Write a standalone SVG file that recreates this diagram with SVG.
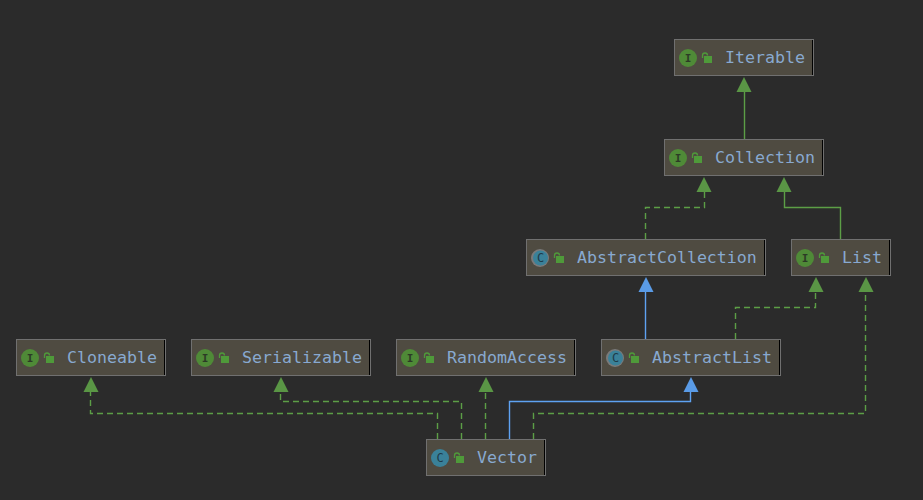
<svg xmlns="http://www.w3.org/2000/svg" width="923" height="500" viewBox="0 0 923 500">
<style>
text{font-family:"DejaVu Sans Mono","Liberation Mono",monospace}
.box{fill:#4f4b41;stroke:#707070;stroke-width:1}
.base{fill:#707070}
.edge{fill:#000}
.label{font-size:16.6px;fill:#88a9d0}
.ic{fill:#4f8a37}
.cc{fill:#3a8199}
.gl{font-size:11px;font-weight:bold;text-anchor:middle;fill:#2c3a26}
.glc{font-size:12px;text-anchor:middle;fill:#1e3a48}
.conn{fill:none;stroke-width:1.4}
.g{stroke:#5c9e46}
.b{stroke:#5ea2f2}
.d{stroke-dasharray:6 4;stroke:#5c9e46}
.ag{fill:#5a9645}
.ab{fill:#5a9be6}
.lock{fill:none;stroke:#4f9a3a;stroke-width:1.3}
.lockb{fill:#4f9a3a}
</style>
<defs>
<g id="lk"><path class="lock" d="M0.500 0V-2.500a2.500 2.500 0 0 1 5 0"/><rect class="lockb" x="2" y="-2" width="8" height="7"/></g>
<path id="tip" d="M0 0l7.500 15h-15z"/>
</defs>
<rect width="923" height="500" fill="#2b2b2b"/>
<g id="connectors">
<path class="conn g" d="M744.500 92V139"/>
<path class="conn d" d="M645.500 239V207.500H704.500V192"/>
<path class="conn g" d="M840.500 239V207.500H784.500V192"/>
<path class="conn b" d="M645.500 339V292"/>
<path class="conn d" d="M735.500 339V307.500H815.500V292"/>
<path class="conn d" d="M437.500 439V413.500H90.500V392"/>
<path class="conn d" d="M461.500 439V401.500H280.500V392"/>
<path class="conn d" d="M485.500 439V392"/>
<path class="conn b" d="M509.500 439V401.500H690.500V392"/>
<path class="conn d" d="M533.500 439V413.500H865.500V292"/>
<use href="#tip" class="ag" x="744" y="77"/>
<use href="#tip" class="ag" x="704" y="177"/>
<use href="#tip" class="ag" x="784" y="177"/>
<use href="#tip" class="ab" x="646" y="277"/>
<use href="#tip" class="ag" x="816" y="277"/>
<use href="#tip" class="ag" x="866" y="277"/>
<use href="#tip" class="ag" x="91" y="377"/>
<use href="#tip" class="ag" x="281" y="377"/>
<use href="#tip" class="ag" x="486" y="377"/>
<use href="#tip" class="ab" x="691" y="377"/>
</g>
<g id="node-iterable">
<rect class="box" x="674.500" y="39.500" width="139" height="36"/><rect class="edge" x="812" y="40" width="1" height="35"/><rect class="base" x="675" y="75" width="139" height="1"/>
<circle class="ic" cx="688" cy="58" r="9"/><text class="gl" x="688" y="62">I</text>
<use href="#lk" x="702" y="58"/><text class="label" x="725" y="63">Iterable</text>
</g>
<g id="node-collection">
<rect class="box" x="664.500" y="139.500" width="159" height="36"/><rect class="edge" x="822" y="140" width="1" height="35"/><rect class="base" x="665" y="175" width="159" height="1"/>
<circle class="ic" cx="678" cy="158" r="9"/><text class="gl" x="678" y="162">I</text>
<use href="#lk" x="692" y="158"/><text class="label" x="715" y="163">Collection</text>
</g>
<g id="node-abstractcollection">
<rect class="box" x="526.500" y="239.500" width="239" height="36"/><rect class="edge" x="764" y="240" width="1" height="35"/><rect class="base" x="527" y="275" width="239" height="1"/>
<circle cx="540" cy="258" r="9" fill="#7a7a7a"/><circle class="cc" cx="540.500" cy="258" r="7.500"/><text class="glc" x="540.500" y="262">C</text>
<use href="#lk" x="554" y="258"/><text class="label" x="577" y="263">AbstractCollection</text>
</g>
<g id="node-list">
<rect class="box" x="791.500" y="239.500" width="99" height="36"/><rect class="edge" x="889" y="240" width="1" height="35"/><rect class="base" x="792" y="275" width="99" height="1"/>
<circle class="ic" cx="805" cy="258" r="9"/><text class="gl" x="805" y="262">I</text>
<use href="#lk" x="819" y="258"/><text class="label" x="842" y="263">List</text>
</g>
<g id="node-cloneable">
<rect class="box" x="16.500" y="339.500" width="149" height="36"/><rect class="edge" x="164" y="340" width="1" height="35"/><rect class="base" x="17" y="375" width="149" height="1"/>
<circle class="ic" cx="30" cy="358" r="9"/><text class="gl" x="30" y="362">I</text>
<use href="#lk" x="44" y="358"/><text class="label" x="67" y="363">Cloneable</text>
</g>
<g id="node-serializable">
<rect class="box" x="191.500" y="339.500" width="179" height="36"/><rect class="edge" x="369" y="340" width="1" height="35"/><rect class="base" x="192" y="375" width="179" height="1"/>
<circle class="ic" cx="205" cy="358" r="9"/><text class="gl" x="205" y="362">I</text>
<use href="#lk" x="219" y="358"/><text class="label" x="242" y="363">Serializable</text>
</g>
<g id="node-randomaccess">
<rect class="box" x="396.500" y="339.500" width="179" height="36"/><rect class="edge" x="574" y="340" width="1" height="35"/><rect class="base" x="397" y="375" width="179" height="1"/>
<circle class="ic" cx="410" cy="358" r="9"/><text class="gl" x="410" y="362">I</text>
<use href="#lk" x="424" y="358"/><text class="label" x="447" y="363">RandomAccess</text>
</g>
<g id="node-abstractlist">
<rect class="box" x="601.500" y="339.500" width="179" height="36"/><rect class="edge" x="779" y="340" width="1" height="35"/><rect class="base" x="602" y="375" width="179" height="1"/>
<circle cx="615" cy="358" r="9" fill="#7a7a7a"/><circle class="cc" cx="615.500" cy="358" r="7.500"/><text class="glc" x="615.500" y="362">C</text>
<use href="#lk" x="629" y="358"/><text class="label" x="652" y="363">AbstractList</text>
</g>
<g id="node-vector">
<rect class="box" x="426.500" y="439.500" width="119" height="36"/><rect class="edge" x="544" y="440" width="1" height="35"/><rect class="base" x="427" y="475" width="119" height="1"/>
<circle class="cc" cx="440" cy="458" r="9"/><text class="glc" x="440" y="462">C</text>
<use href="#lk" x="454" y="458"/><text class="label" x="477" y="463">Vector</text>
</g>
</svg>
